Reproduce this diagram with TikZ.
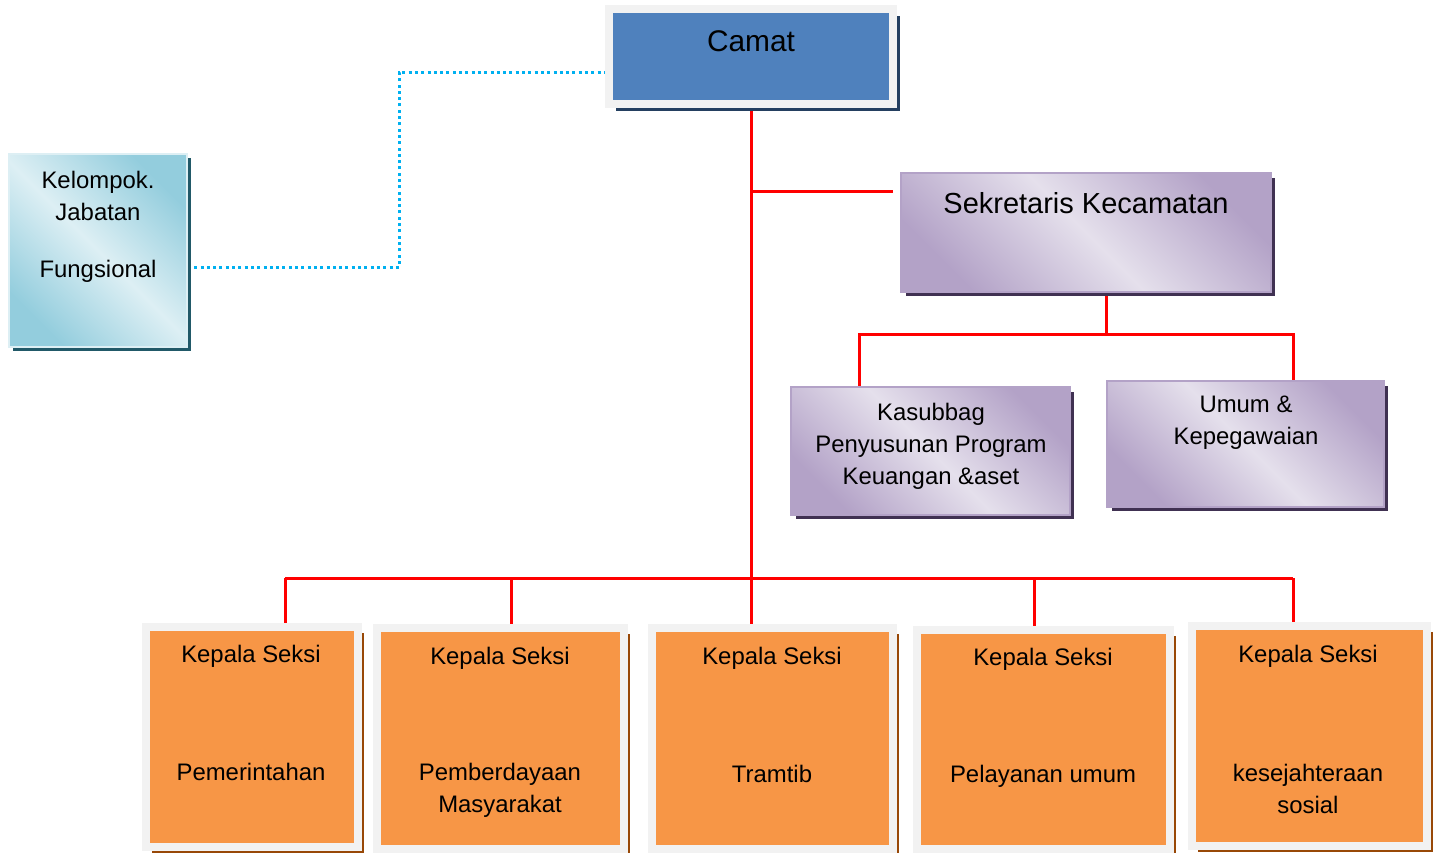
\documentclass[tikz,border=0pt]{standalone}
\usepackage{fontspec}
\setmainfont{Liberation Sans}
\usetikzlibrary{shadows, backgrounds}
\definecolor{camatblue}{HTML}{4F81BD}
\definecolor{camatshadow}{HTML}{243F60}
\definecolor{framegray}{HTML}{F2F2F2}
\definecolor{tealdark}{HTML}{93CDDD}
\definecolor{teallight}{HTML}{DDEFF4}
\definecolor{tealshadow}{HTML}{215968}
\definecolor{lilacdark}{HTML}{B3A2C7}
\definecolor{lilaclight}{HTML}{E5E0EC}
\definecolor{lilacshadow}{HTML}{403152}
\definecolor{seksiorange}{HTML}{F79646}
\definecolor{seksishadow}{HTML}{984807}
\definecolor{linkred}{HTML}{FF0000}
\definecolor{linkcyan}{HTML}{00B0F0}

\begin{document}
\begin{tikzpicture}[
    x=0.02cm, y=-0.02cm,
    font=\fontsize{13.6}{18.2}\selectfont,
    headbox/.style={draw=framegray, line width=0.16cm, fill=camatblue,
        general shadow={fill=camatshadow, shadow xshift=0.14cm, shadow yshift=-0.14cm}},
    fungbox/.style={draw=teallight, line width=0.04cm,
        top color=tealdark, bottom color=tealdark, middle color=teallight, shading angle=-45,
        general shadow={fill=tealshadow, shadow xshift=0.08cm, shadow yshift=-0.08cm}},
    sekbox/.style={draw=lilacdark, line width=0.04cm,
        top color=lilacdark, bottom color=lilacdark, middle color=lilaclight, shading angle=-45,
        general shadow={fill=lilacshadow, shadow xshift=0.09cm, shadow yshift=-0.09cm}},
    seksibox/.style={draw=framegray, line width=0.16cm, fill=seksiorange, minimum height=4.42cm,
        general shadow={fill=seksishadow, shadow xshift=0.12cm, shadow yshift=-0.12cm}},
    lbl/.style={align=center, inner sep=0pt},
    biglbl/.style={lbl, font=\fontsize{16.5}{20}\selectfont},
    link/.style={draw=linkred, line width=0.06cm},
    dotlink/.style={draw=linkcyan, line width=0.06cm, dash pattern=on 0.06cm off 0.066cm}
]
\useasboundingbox (0,0) rectangle (1435,852);

% --- Camat (head) ---
\node[headbox, minimum width=5.68cm, minimum height=1.9cm] (camat) at (751,56.5) {};
\node[biglbl, font=\fontsize{17}{20}\selectfont] (camatlbl) at (751,41) {Camat};

% --- Kelompok jabatan fungsional ---
\node[fungbox, minimum width=3.56cm, minimum height=3.86cm] (fung) at (98,250.5) {};
\node[lbl] (funglbl) at (98,196) {Kelompok.\\Jabatan};
\node[lbl] (funglbl2) at (98,271) {Fungsional};

% --- Sekretariat ---
\node[sekbox, minimum width=7.4cm, minimum height=2.38cm] (sekre) at (1086,232.5) {};
\node[biglbl] (sekrelbl) at (1086,203) {Sekretaris Kecamatan};
\node[sekbox, minimum width=5.58cm, minimum height=2.56cm] (kasub) at (930.5,451) {};
\node[lbl] (kasublbl) at (931,446) {Kasubbag\\Penyusunan Program\\Keuangan \&aset};
\node[sekbox, minimum width=5.54cm, minimum height=2.52cm] (umum) at (1245.5,444) {};
\node[lbl] (umumlbl) at (1246,423) {Umum \&\\Kepegawaian};

% --- Kepala seksi row ---
\node[seksibox, minimum width=4.24cm] (seksi1) at (252,737) {};
\node[seksibox, minimum width=4.94cm] (seksi2) at (500.5,738.5) {};
\node[seksibox, minimum width=4.82cm] (seksi3) at (772.5,738.5) {};
\node[seksibox, minimum width=5.06cm, minimum height=4.38cm] (seksi4) at (1043.5,739.5) {};
\node[seksibox, minimum width=4.7cm, minimum height=4.4cm] (seksi5) at (1309.5,736) {};

\node[lbl] (seksi1top) at (251,656) {Kepala Seksi};
\node[lbl] (seksi1bot) at (251,772) {Pemerintahan};
\node[lbl] (seksi2top) at (500,658) {Kepala Seksi};
\node[lbl] (seksi2bot) at (500,790) {Pemberdayaan\\Masyarakat};
\node[lbl] (seksi3top) at (772,658) {Kepala Seksi};
\node[lbl] (seksi3bot) at (772,774) {Tramtib};
\node[lbl] (seksi4top) at (1043,659) {Kepala Seksi};
\node[lbl] (seksi4bot) at (1043,776) {Pelayanan umum};
\node[lbl] (seksi5top) at (1308,656) {Kepala Seksi};
\node[lbl] (seksi5bot) at (1308,789) {kesejahteraan\\sosial};

% --- Junction points ---
\coordinate (sekin) at (893,191);
\coordinate (subl) at (859,334);
\coordinate (subm) at (1106,334);
\coordinate (subr) at (1293,334);
\coordinate (busl) at (285,578);
\coordinate (busb) at (511,578);
\coordinate (busd) at (1034,578);
\coordinate (busr) at (1293,578);
\coordinate (dota) at (399,267);
\coordinate (dotb) at (399,72);

\begin{scope}[on background layer]
% --- Camat line of command ---
\draw[link] (camat.south) -- (camat.south |- seksi3.north);
\draw[link] (camat.south |- sekin) -- (sekin);
\draw[link] (sekre.south -| subm) -- (subm);
\draw[link] (subl |- kasub.north) |- (subr) -- (subr |- umum.north);
\draw[link] (busl) -- (busr);
\draw[link] (busl) -- (busl |- seksi1.north);
\draw[link] (busb) -- (busb |- seksi2.north);
\draw[link] (busd) -- (busd |- seksi4.north);
\draw[link] (busr) -- (busr |- seksi5.north);
% --- Coordination with fungsional group ---
\draw[dotlink] (fung.east |- dota) -- (dota) -- (dotb) -- (dotb -| camat.west);
\end{scope}

\end{tikzpicture}
\end{document}
